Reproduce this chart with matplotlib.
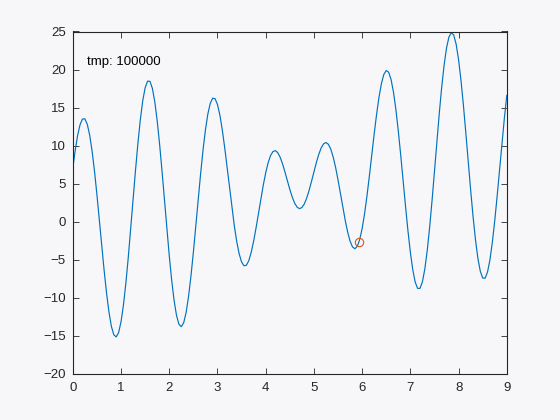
import numpy as np
import matplotlib
matplotlib.use("Agg")
import matplotlib.pyplot as plt

# curve samples, x from 0 to 9 in steps of 0.05
y_values = [
    7.00, 9.38, 11.34, 12.74, 13.49, 13.52, 12.81, 11.38, 9.29, 6.64,
    3.57, 0.25, -3.15, -6.43, -9.40, -11.90, -13.76, -14.87, -15.15, -14.58,
    -13.16, -10.97, -8.11, -4.72, -0.98, 2.90, 6.73, 10.29, 13.40, 15.88,
    17.60, 18.47, 18.45, 17.53, 15.77, 13.27, 10.18, 6.66, 2.91, -0.87,
    -4.46, -7.67, -10.33, -12.30, -13.48, -13.81, -13.28, -11.93, -9.86, -7.17,
    -4.04, -0.62, 2.88, 6.27, 9.38, 12.04, 14.13, 15.54, 16.23, 16.17,
    15.41, 14.01, 12.07, 9.73, 7.13, 4.44, 1.82, -0.58, -2.63, -4.23,
    -5.30, -5.80, -5.73, -5.12, -4.03, -2.56, -0.82, 1.07, 2.99, 4.81,
    6.42, 7.73, 8.68, 9.21, 9.34, 9.07, 8.47, 7.59, 6.52, 5.38,
    4.25, 3.25, 2.44, 1.92, 1.71, 1.85, 2.32, 3.09, 4.11, 5.29,
    6.53, 7.75, 8.83, 9.69, 10.23, 10.41, 10.17, 9.53, 8.49, 7.12,
    5.49, 3.71, 1.89, 0.15, -1.37, -2.56, -3.32, -3.56, -3.24, -2.35,
    -0.91, 1.03, 3.37, 6.00, 8.78, 11.54, 14.12, 16.38, 18.16, 19.36,
    19.87, 19.65, 18.69, 17.03, 14.74, 11.93, 8.76, 5.39, 2.01, -1.19,
    -4.02, -6.31, -7.94, -8.77, -8.77, -7.91, -6.23, -3.79, -0.73, 2.79,
    6.60, 10.49, 14.25, 17.68, 20.59, 22.83, 24.28, 24.85, 24.52, 23.31,
    21.29, 18.58, 15.32, 11.70, 7.91, 4.18, 0.69, -2.35, -4.79, -6.51,
    -7.40, -7.44, -6.63, -5.03, -2.73, 0.12, 3.37, 6.84, 10.32, 13.64,
    16.61,
]
x_start, x_end = 0.0, 9.0

marker_x = [5.93]
marker_y = [-2.71]

label_text = "tmp: 100000"
label_pos = (0.3, 21.0)

x_ticks = [0, 1, 2, 3, 4, 5, 6, 7, 8, 9]
y_ticks = [-20, -15, -10, -5, 0, 5, 10, 15, 20, 25]

plt.rcParams['font.family'] = ['Liberation Sans', 'DejaVu Sans']
bg = '#f7f7f9'
axc = '#262626'

fig = plt.figure(figsize=(5.6, 4.2), dpi=100, facecolor=bg)
ax = fig.add_axes([0.13, 0.11, 0.775, 0.815], facecolor=bg)

x_values = np.linspace(x_start, x_end, len(y_values))
ax.plot(x_values, y_values, color='#0072BD', lw=0.85)
ax.plot(marker_x, marker_y, 'o', mfc='none', mec='#D95319', ms=6, mew=0.8)
ax.text(label_pos[0], label_pos[1], label_text, fontsize=9.5, color='black',
        va='center', ha='left')

ax.set_xlim(0, 9)
ax.set_ylim(-20, 25)
ax.set_xticks(x_ticks)
ax.set_yticks(y_ticks)
ax.tick_params(direction='in', length=4, width=0.6, colors=axc, labelsize=9.5,
               top=True, right=True)
ax.tick_params(axis='x', pad=6)
ax.tick_params(axis='y', pad=5)
ax.tick_params(axis='both', labelcolor=axc)
for s in ax.spines.values():
    s.set_color(axc)
    s.set_linewidth(0.8)

fig.savefig('out.png', dpi=100, facecolor=bg)
